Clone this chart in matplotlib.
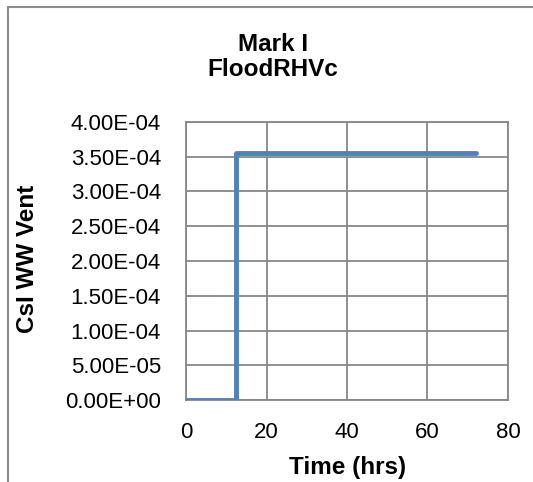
import matplotlib.pyplot as plt
from matplotlib.patches import Rectangle

# Step series
time_hrs = [0, 12.3, 12.3, 72]
csi_ww_vent = [0.0, 0.0, 3.56e-4, 3.56e-4]

x_ticks = [0, 20, 40, 60, 80]
y_ticks = [0, 5e-5, 1e-4, 1.5e-4, 2e-4, 2.5e-4, 3e-4, 3.5e-4, 4e-4]

plt.rcParams['font.family'] = ['Liberation Sans', 'DejaVu Sans']

fig = plt.figure(figsize=(5.33, 4.82), dpi=100)
ax = fig.add_axes([0.349, 0.170, 0.604, 0.577])

ax.plot(time_hrs, csi_ww_vent, color='#4F81BD', linewidth=3.5, solid_capstyle='round', zorder=3)

ax.set_xlim(0, 80)
ax.set_ylim(0, 4e-4)
ax.set_xticks(x_ticks)
ax.set_yticks(y_ticks)
ax.set_xticklabels([str(v) for v in x_ticks])
ax.set_yticklabels([f'{v:.2E}' for v in y_ticks])
ax.tick_params(length=0, labelsize=16)
ax.tick_params(axis='y', pad=18)
ax.tick_params(axis='x', pad=16)
ax.grid(True, color='#878787', linewidth=1.3)
for s in ax.spines.values():
    s.set_color('#878787')
    s.set_linewidth(1.3)

fig.text(0.652, 0.031, 'Time (hrs)', fontsize=17.5, fontweight='bold', ha='center', va='center')
fig.text(0.052, 0.463, 'CsI WW Vent', rotation=90, fontsize=17.5, fontweight='bold',
         ha='center', va='center')
fig.text(0.512, 0.882, 'Mark I\nFloodRHVc', fontsize=17.5, fontweight='bold',
         ha='center', va='center', linespacing=1.15)

# chart frame (only left and top edges visible in the crop)
fig.patches.append(Rectangle((0.015, -0.1), 1.2, 1.085, transform=fig.transFigure,
                             fill=False, edgecolor='#8c8c8c', linewidth=1.5))

fig.savefig('out.png', dpi=100)
